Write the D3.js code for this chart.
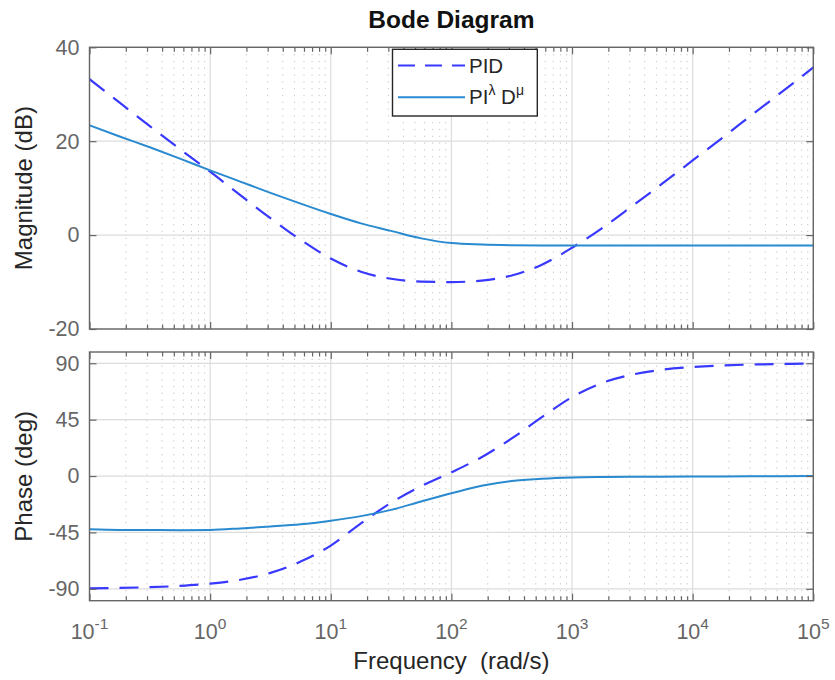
<!DOCTYPE html>
<html>
<head>
<meta charset="utf-8">
<script src="https://cdn.jsdelivr.net/npm/d3@7"></script>
<style>
  body { margin: 0; background: #fff; }
  svg { display: block; }
  text { font-family: "Liberation Sans", Arial, Helvetica, sans-serif; }
</style>
</head>
<body>
<svg id="chart" width="835" height="680"></svg>
<script>
// Frequency samples (rad/s), quarter-decade spacing
const freq = [0.1, 0.1778, 0.3162, 0.5623, 1, 1.778, 3.162, 5.623, 10, 17.78, 31.62, 56.23,
  100, 177.8, 316.2, 562.3, 1000, 1778, 3162, 5623, 10000, 17783, 31623, 56234, 100000];

// Integer-order PID controller
const pidMag = [33.2, 28.2, 23.2, 18.3, 13.5, 8.5, 3.6, -1.0, -5.0, -7.8, -9.3, -9.9,
  -10.0, -9.7, -8.6, -6.3, -2.7, 1.5, 6.2, 11.0, 15.9, 20.8, 25.8, 30.7, 35.7];
const pidPhase = [-89.6, -89.3, -88.7, -87.7, -85.9, -82.8, -77.3, -68.3, -55.5, -37.8, -21.3, -8.0,
  3.0, 15.0, 30.0, 47.0, 63.0, 74.3, 81.0, 84.9, 87.0, 88.3, 89.0, 89.5, 89.7];

// Fractional-order PI^lambda D^mu controller
const fracMag = [23.4, 21.0, 18.7, 16.3, 13.8, 11.4, 9.0, 6.7, 4.5, 2.5, 0.9, -0.7,
  -1.7, -2.0, -2.15, -2.2, -2.2, -2.2, -2.2, -2.2, -2.2, -2.2, -2.2, -2.2, -2.2];
const fracPhase = [-42.5, -43.0, -43.1, -43.2, -43.0, -41.8, -40.3, -38.5, -35.6, -32.0, -27.0, -20.3,
  -13.8, -7.8, -4.0, -2.2, -1.2, -0.8, -0.6, -0.5, -0.4, -0.3, -0.2, -0.1, 0.0];

const magTicks = [-20, 0, 20, 40];
const phaseTicks = [-90, -45, 0, 45, 90];
const freqTicks = [0.1, 1, 10, 100, 1000, 10000, 100000];
const freqExponents = [-1, 0, 1, 2, 3, 4, 5];

const pidColor = "#3838ff";
const fracColor = "#2a8ad0";
const axisGray = "#666666";
const font = '"Liberation Sans", Arial, Helvetica, sans-serif';
const dashPattern = "19,11";

const svg = d3.select("#chart");

const left = 89.5, right = 813.3;
const magTop = 47.3, magBot = 329;
const phTop = 352, phBot = 600.7;

const x = d3.scaleLog().domain([0.1, 1e5]).range([left, right]);
const yMag = d3.scaleLinear().domain([-20, 40]).range([magBot, magTop]);
const yPh = d3.scaleLinear().domain([-99.5, 99]).range([phBot, phTop]);

// minor log positions 2..9 within every decade
const minorFreqs = [];
for (let d = -1; d <= 4; d++) {
  for (let m = 2; m <= 9; m++) minorFreqs.push(m * Math.pow(10, d));
}

function drawPanel(id, yScale, yTicks, top, bot, series) {
  const g = svg.append("g").attr("class", id);

  g.append("clipPath").attr("id", id + "-clip")
    .append("rect").attr("x", left).attr("y", top)
    .attr("width", right - left).attr("height", bot - top);

  g.append("rect").attr("x", left).attr("y", top)
    .attr("width", right - left).attr("height", bot - top).attr("fill", "#fff");

  // minor grid (dotted)
  g.append("g").selectAll("line").data(minorFreqs).join("line")
    .attr("x1", d => x(d)).attr("x2", d => x(d))
    .attr("y1", top).attr("y2", bot)
    .attr("stroke", "#c2c2c2").attr("stroke-width", 1)
    .attr("stroke-dasharray", "1.2,5.6");

  // major grid
  g.append("g").selectAll("line").data(freqTicks).join("line")
    .attr("x1", d => x(d)).attr("x2", d => x(d))
    .attr("y1", top).attr("y2", bot)
    .attr("stroke", "#dcdcdc").attr("stroke-width", 1.2);
  g.append("g").selectAll("line").data(yTicks).join("line")
    .attr("x1", left).attr("x2", right)
    .attr("y1", d => yScale(d)).attr("y2", d => yScale(d))
    .attr("stroke", "#dcdcdc").attr("stroke-width", 1.2);

  // curves
  const line = d3.line()
    .x(d => x(d.f)).y(d => yScale(d.v))
    .curve(d3.curveMonotoneX);
  const plot = g.append("g").attr("clip-path", `url(#${id}-clip)`);
  series.forEach(s => {
    plot.append("path")
      .datum(freq.map((f, i) => ({ f: f, v: s.values[i] })))
      .attr("fill", "none")
      .attr("stroke", s.color)
      .attr("stroke-width", s.width)
      .attr("stroke-dasharray", s.dash)
      .attr("d", line);
  });

  // ticks on all four sides, pointing inward
  const styleAxis = a => {
    a.select(".domain").remove();
    a.selectAll(".tick line").attr("stroke", axisGray).attr("stroke-width", 1.2);
    a.selectAll(".tick text").attr("fill", axisGray)
      .attr("font-size", 21.5).attr("font-family", font);
  };
  g.append("g").attr("transform", `translate(${left},0)`)
    .call(d3.axisLeft(yScale).tickValues(yTicks).tickSizeInner(-7).tickSizeOuter(0)
      .tickPadding(10).tickFormat(d => String(d)))
    .call(styleAxis);
  g.append("g").attr("transform", `translate(${right},0)`)
    .call(d3.axisRight(yScale).tickValues(yTicks).tickSizeInner(-7).tickSizeOuter(0).tickFormat(""))
    .call(styleAxis);
  [[d3.axisBottom, bot], [d3.axisTop, top]].forEach(([ax, yy]) => {
    g.append("g").attr("transform", `translate(0,${yy})`)
      .call(ax(x).tickValues(freqTicks).tickSizeInner(-7).tickSizeOuter(0).tickFormat(""))
      .call(styleAxis);
    g.append("g").attr("transform", `translate(0,${yy})`)
      .call(ax(x).tickValues(minorFreqs).tickSizeInner(-4.5).tickSizeOuter(0).tickFormat(""))
      .call(styleAxis);
  });

  // box
  g.append("rect").attr("x", left).attr("y", top)
    .attr("width", right - left).attr("height", bot - top)
    .attr("fill", "none").attr("stroke", axisGray).attr("stroke-width", 1.4);

  return g;
}

const magPanel = drawPanel("mag", yMag, magTicks, magTop, magBot, [
  { values: pidMag, color: pidColor, width: 2.2, dash: dashPattern },
  { values: fracMag, color: fracColor, width: 2, dash: null }
]);
drawPanel("phase", yPh, phaseTicks, phTop, phBot, [
  { values: pidPhase, color: pidColor, width: 2.2, dash: dashPattern },
  { values: fracPhase, color: fracColor, width: 2, dash: null }
]);

// frequency tick labels: 10 with superscript exponent
const xl = svg.append("g").selectAll("text").data(freqTicks).join("text")
  .attr("x", d => x(d)).attr("y", 639)
  .attr("text-anchor", "middle")
  .attr("fill", axisGray).attr("font-size", 21.5);
xl.append("tspan").text("10");
xl.append("tspan").attr("font-size", 15.5).attr("dy", -10)
  .text((d, i) => String(freqExponents[i]));

// title and axis labels
svg.append("text").attr("x", (left + right) / 2).attr("y", 28)
  .attr("text-anchor", "middle").attr("font-size", 24.5).attr("font-weight", "bold")
  .attr("fill", "#111").text("Bode Diagram");

svg.append("text").attr("x", (left + right) / 2).attr("y", 669)
  .attr("text-anchor", "middle").attr("font-size", 24).attr("fill", "#262626")
  .style("white-space", "pre").text("Frequency  (rad/s)");

svg.append("text")
  .attr("transform", `translate(32,${(magTop + magBot) / 2}) rotate(-90)`)
  .attr("text-anchor", "middle").attr("font-size", 24).attr("fill", "#262626")
  .text("Magnitude (dB)");
svg.append("text")
  .attr("transform", `translate(32,${(phTop + phBot) / 2}) rotate(-90)`)
  .attr("text-anchor", "middle").attr("font-size", 24).attr("fill", "#262626")
  .text("Phase (deg)");

// legend
const lg = magPanel.append("g");
lg.append("rect").attr("x", 392.5).attr("y", 49.3).attr("width", 144.8).attr("height", 66.7)
  .attr("fill", "#fff").attr("stroke", "#262626").attr("stroke-width", 1.4);
const legendItems = [
  { y: 65.5, color: pidColor, width: 2.2, dash: "17,10" },
  { y: 97.3, color: fracColor, width: 2, dash: null }
];
lg.selectAll("line").data(legendItems).join("line")
  .attr("x1", 398).attr("x2", 465).attr("y1", d => d.y).attr("y2", d => d.y)
  .attr("stroke", d => d.color).attr("stroke-width", d => d.width)
  .attr("stroke-dasharray", d => d.dash);
lg.append("text").attr("x", 469).attr("y", 65.5).attr("dy", "0.35em")
  .attr("font-size", 20.5).attr("fill", "#262626").text("PID");
const t2 = lg.append("text").attr("x", 469).attr("y", 97.3).attr("dy", "0.35em")
  .attr("font-size", 20.5).attr("fill", "#262626").style("white-space", "pre");
t2.append("tspan").text("PI");
t2.append("tspan").attr("font-size", 14).attr("dy", -9).text("λ");
t2.append("tspan").attr("dy", 9).text(" D");
t2.append("tspan").attr("font-size", 14).attr("dy", -9).text("μ");
</script>
</body>
</html>
